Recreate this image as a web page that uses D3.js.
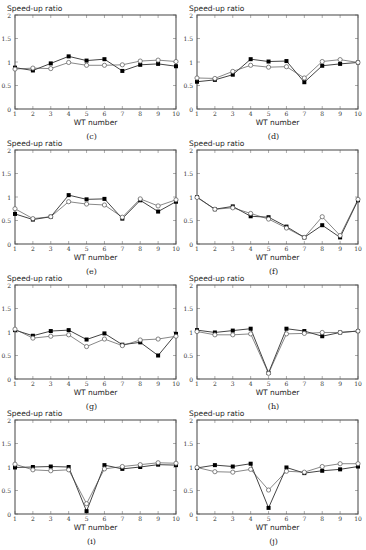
<!DOCTYPE html>
<html><head><meta charset="utf-8">
<script src="https://cdn.jsdelivr.net/npm/d3@7"></script>
<style>body{margin:0;background:#fff}</style>
</head><body>
<script>
const wt = [1,2,3,4,5,6,7,8,9,10];
const panelLabels = ["(c)","(d)","(e)","(f)","(g)","(h)","(i)","(j)"];
const yTicks = [0,0.5,1,1.5,2];
const filledSeries = [
  [0.88,0.82,0.97,1.12,1.03,1.06,0.81,0.94,0.96,0.91],
  [0.58,0.62,0.73,1.06,1.01,1.02,0.57,0.92,0.96,0.99],
  [0.64,0.52,0.58,1.04,0.95,0.96,0.54,0.93,0.69,0.90],
  [1.00,0.74,0.80,0.59,0.57,0.37,0.14,0.40,0.14,0.93],
  [1.04,0.92,1.02,1.04,0.84,0.97,0.73,0.78,0.50,0.96],
  [1.04,0.99,1.03,1.07,0.13,1.07,1.02,0.91,0.99,1.02],
  [0.99,1.00,1.01,1.00,0.06,1.04,0.96,1.00,1.05,1.04],
  [0.98,1.04,1.01,1.07,0.13,0.99,0.87,0.92,0.95,1.01]
];
const openSeries = [
  [0.85,0.87,0.86,0.99,0.93,0.93,0.94,1.02,1.04,1.01],
  [0.66,0.65,0.80,0.93,0.89,0.90,0.66,1.01,1.05,0.99],
  [0.75,0.54,0.58,0.90,0.85,0.83,0.57,0.96,0.81,0.94],
  [0.99,0.74,0.77,0.65,0.53,0.34,0.14,0.58,0.18,0.95],
  [1.06,0.87,0.91,0.94,0.69,0.85,0.71,0.83,0.85,0.91],
  [1.01,0.94,0.94,0.96,0.12,0.96,0.97,0.99,0.99,1.02],
  [1.06,0.94,0.92,0.94,0.22,0.96,1.01,1.05,1.09,1.08],
  [0.99,0.90,0.89,0.95,0.51,0.91,0.89,1.01,1.07,1.07]
];

const W = 366, H = 550;
const svg = d3.select("body").append("svg").attr("width", W).attr("height", H);
const colLeft = [15, 197], pw = 161, ph = 94, rowTop = 15, rowStep = 135;

panelLabels.forEach((lab, i) => {
  const col = i % 2, row = Math.floor(i / 2);
  const x0 = colLeft[col], y0 = rowTop + row * rowStep;
  const g = svg.append("g").attr("transform", `translate(${x0},${y0})`);
  const x = d3.scaleLinear().domain([1,10]).range([0,pw]);
  const y = d3.scaleLinear().domain([0,2]).range([ph,0]);

  // inward ticks
  const tk = g.append("g").attr("stroke","#999").attr("stroke-width",0.8);
  wt.forEach(v => {
    tk.append("line").attr("x1",x(v)).attr("x2",x(v)).attr("y1",ph).attr("y2",ph-3);
    tk.append("line").attr("x1",x(v)).attr("x2",x(v)).attr("y1",0).attr("y2",3);
  });
  yTicks.forEach(v => {
    tk.append("line").attr("x1",0).attr("x2",3).attr("y1",y(v)).attr("y2",y(v));
    tk.append("line").attr("x1",pw).attr("x2",pw-3).attr("y1",y(v)).attr("y2",y(v));
  });
  g.append("rect").attr("x",0).attr("y",0).attr("width",pw).attr("height",ph)
    .attr("fill","none").attr("stroke","#555").attr("stroke-width",1.1);

  // tick labels
  g.selectAll(".xt").data(wt).enter().append("text")
    .attr("x", d => x(d)).attr("y", ph + 7).attr("text-anchor","middle")
    .attr("font-family","DejaVu Serif").attr("font-size",6).attr("fill","#333").text(d => d);
  g.selectAll(".yt").data(yTicks).enter().append("text")
    .attr("x", -4).attr("y", d => y(d) + 2.5).attr("text-anchor","end")
    .attr("font-family","DejaVu Serif").attr("font-size",6).attr("fill","#333").text(d => d);

  g.append("text").attr("x",-8).attr("y",-4).attr("font-family","DejaVu Sans")
    .attr("font-size",7.5).attr("fill","#222").text("Speed-up ratio");
  g.append("text").attr("x",pw/2).attr("y",ph+15.5).attr("text-anchor","middle")
    .attr("font-family","DejaVu Sans").attr("font-size",7.5).attr("fill","#222").text("WT number");
  g.append("text").attr("x",pw/2 - 4).attr("y",ph+30).attr("text-anchor","middle")
    .attr("font-family","DejaVu Serif").attr("font-size",8).attr("fill","#222").text(lab);

  const line = d3.line().x((d,j) => x(wt[j])).y(d => y(d));
  g.append("path").datum(openSeries[i]).attr("d",line).attr("fill","none")
    .attr("stroke","#888").attr("stroke-width",1);
  g.append("path").datum(filledSeries[i]).attr("d",line).attr("fill","none")
    .attr("stroke","#444").attr("stroke-width",1);
  g.selectAll(".sq").data(filledSeries[i]).enter().append("rect")
    .attr("x",(d,j) => x(wt[j]) - 2).attr("y", d => y(d) - 2)
    .attr("width",4).attr("height",4).attr("fill","#000");
  g.selectAll(".ci").data(openSeries[i]).enter().append("circle")
    .attr("cx",(d,j) => x(wt[j])).attr("cy", d => y(d)).attr("r",2.1)
    .attr("fill","#fff").attr("stroke","#666").attr("stroke-width",0.8);
});
</script>
</body></html>
